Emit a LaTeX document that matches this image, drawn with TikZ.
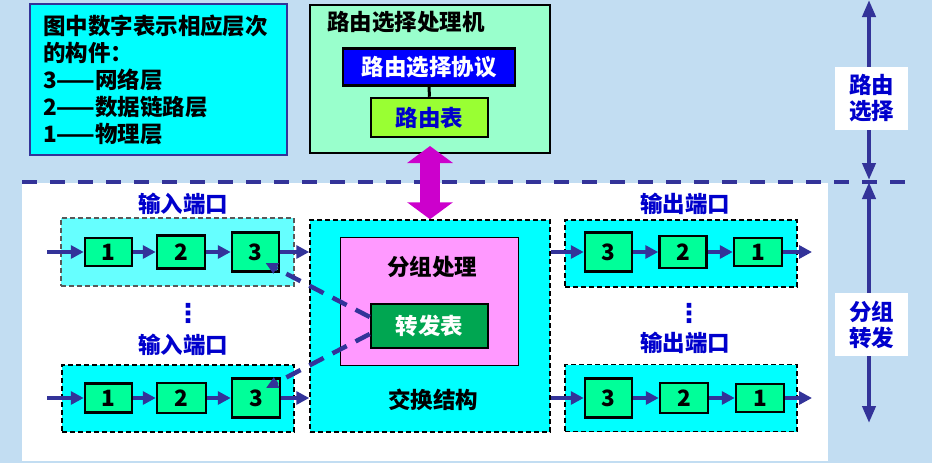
\documentclass[tikz,border=0pt]{standalone}
\usepackage{fontspec}
\setmainfont{Noto Sans CJK SC}
\newfontfamily\symfont{DejaVu Sans}
\usepackage{xcolor}
\usetikzlibrary{arrows.meta,positioning}
\definecolor{cbg}{HTML}{C2DDF2}
\definecolor{cnavy}{HTML}{333399}
\definecolor{ccyan}{HTML}{00FFFF}
\definecolor{cpale}{HTML}{66FFFF}
\definecolor{cspring}{HTML}{00FF99}
\definecolor{cmint}{HTML}{99FFCC}
\definecolor{cblue}{HTML}{0000FF}
\definecolor{clime}{HTML}{99FF33}
\definecolor{cpink}{HTML}{FF99FF}
\definecolor{cdgreen}{HTML}{00A651}
\definecolor{cmag}{HTML}{CC00CC}
\definecolor{ctblue}{HTML}{0000CC}
\newcommand{\bigtxt}{\bfseries\fontsize{22.5}{27}\selectfont}
\tikzset{
  flow/.style={cnavy,line width=4pt,-{Triangle[length=13pt,width=13pt]}},
  ctl/.style={cnavy,line width=4.5pt,dash pattern=on 16pt off 10pt,-{Triangle[length=12pt,width=11pt]}},
  layer/.style={draw=black,line width=2.5pt,fill=cspring,inner sep=0pt,minimum width=47pt,font=\bigtxt},
  port/.style={draw=black,line width=1.5pt,dash pattern=on 5pt off 3pt,fill=ccyan,minimum width=232pt,minimum height=67pt},
  tag/.style={text=ctblue,font=\bigtxt,inner sep=0pt},
  plain/.style={font=\bigtxt,inner sep=0pt}
}

\begin{document}
\begin{tikzpicture}[x=1pt,y=-1pt]
\useasboundingbox (0,0) rectangle (932,463);
\fill[cbg] (0,0) rectangle (932,463);
\fill[white] (22,183) rectangle (828,461);
\draw[cnavy,line width=4pt,dash pattern=on 15pt off 13pt] (22,182) -- (905,182);

% ===== legend =====
\node[draw=cnavy,line width=2pt,fill=ccyan,minimum width=257pt,minimum height=151pt,
      text width=231pt,align=left,inner xsep=13pt,font=\bigtxt] (legend) at (158.5,79.5)
  {图中数字表示相应层次\\的构件：\\3——网络层\\2——数据链路层\\1——物理层};

% ===== routing processor =====
\node[draw=black,line width=2pt,fill=cmint,minimum width=240pt,minimum height=148pt] (proc) at (430,79) {};
\node[plain,anchor=west] (proctitle) at (327,22) {路由选择处理机};
\node[draw=black,line width=2.5pt,fill=cblue,text=white,font=\bigtxt,minimum width=172pt,minimum height=37pt] (proto) at (429,67) {路由选择协议};
\node[draw=black,line width=2.5pt,fill=clime,text=ctblue,font=\bigtxt,minimum width=117pt,minimum height=39pt] (rtab) at (429.5,117.5) {路由表};
\draw[line width=3pt] (proto) -- (rtab);

% ===== switch fabric =====
\node[port,minimum width=240pt,minimum height=212pt] (fabric) at (430,326) {};
\node[plain] (fabrictxt) at (433,400) {交换结构};
\node[draw=black,line width=1pt,fill=cpink,minimum width=178pt,minimum height=128pt] (pkt) at (429,301) {};
\node[plain] (pkttxt) at (432,267) {分组处理};
\node[draw=black,line width=2.5pt,fill=cdgreen,text=white,font=\bigtxt,minimum width=117pt,minimum height=44pt] (ftab) at (429.5,326) {转发表};

\draw[cmag,line width=20pt,{Triangle[length=17pt,width=45pt]}-{Triangle[length=17pt,width=45pt]}]
  ([yshift=8pt]proc.south) -- (fabric.north);

% ===== input ports =====
\node[port,draw=black!65,fill=cpale,minimum width=233pt,minimum height=68pt] (inA) at (177.5,252) {};
\node[tag] (inAtag) at (183,204) {输入端口};
\node[layer,minimum height=28pt] (inA1) at (108.5,252) {1};
\node[layer,minimum width=48pt,minimum height=33pt] (inA2) at (181,252) {2};
\node[layer,minimum height=39pt] (inA3) at (255.5,252) {3};
\coordinate (inAsrc) at (47,252);
\draw[flow] (inAsrc) -- (inA1);
\draw[flow] (inA1) -- (inA2);
\draw[flow] (inA2) -- (inA3);
\draw[flow] (inA3.east) -- (inA3.east -| fabric.west);

\node[text=ctblue,font=\symfont\bfseries\fontsize{26}{26}\selectfont,inner sep=0pt] (inDots) at (188,313) {⋮};

\node[port,minimum width=232pt] (inB) at (178,398.5) {};
\node[tag] (inBtag) at (183,345) {输入端口};
\node[layer,minimum height=29pt] (inB1) at (108.5,398) {1};
\node[layer,minimum width=49pt,minimum height=30pt] (inB2) at (181.5,398) {2};
\node[layer,minimum width=48pt,minimum height=39pt] (inB3) at (256,398) {3};
\coordinate (inBsrc) at (47,398);
\draw[flow] (inBsrc) -- (inB1);
\draw[flow] (inB1) -- (inB2);
\draw[flow] (inB2) -- (inB3);
\draw[flow] (inB3.east) -- (inB3.east -| fabric.west);

% ===== output ports =====
\node[port] (outA) at (681,253.5) {};
\node[tag] (outAtag) at (685,204) {输出端口};
\node[layer,minimum height=39pt] (outA3) at (608.5,252) {3};
\node[layer,minimum height=32pt] (outA2) at (683,252) {2};
\node[layer,minimum width=48pt,minimum height=28pt] (outA1) at (758,252) {1};
\coordinate (outAdst) at (812,252);
\draw[flow] (outA3.west -| fabric.east) -- (outA3.west);
\draw[flow] (outA3) -- (outA2);
\draw[flow] (outA2) -- (outA1);
\draw[flow] (outA1) -- (outAdst);

\node[text=ctblue,font=\symfont\bfseries\fontsize{26}{26}\selectfont,inner sep=0pt] (outDots) at (689,313) {⋮};

\node[port] (outB) at (681,398) {};
\node[tag] (outBtag) at (685,343) {输出端口};
\node[layer,minimum height=39pt] (outB3) at (608.5,398) {3};
\node[layer,minimum width=48pt,minimum height=30pt] (outB2) at (684,398) {2};
\node[layer,minimum width=48pt,minimum height=28pt] (outB1) at (760,398) {1};
\coordinate (outBdst) at (812,398);
\draw[flow] (outB3.west -| fabric.east) -- (outB3.west);
\draw[flow] (outB3) -- (outB2);
\draw[flow] (outB2) -- (outB1);
\draw[flow] (outB1) -- (outBdst);

% ===== forwarding table lookups =====
\draw[ctl] ([yshift=9pt]ftab.west) -- ([xshift=10pt,yshift=-11pt]inA3.center);
\draw[ctl] ([yshift=-8pt]ftab.west) -- ([xshift=10pt,yshift=10pt]inB3.center);

% ===== right side scale =====
\coordinate (routeTop) at (869,0);
\coordinate (routeBot) at (869,180);
\coordinate (fwdTop) at (869,182);
\coordinate (fwdBot) at (869,423);
\draw[cnavy,line width=4pt,{Triangle[length=17pt,width=13pt]}-{Triangle[length=17pt,width=13pt]}] (routeTop) -- (routeBot);
\draw[cnavy,line width=4pt,{Triangle[length=17pt,width=13pt]}-{Triangle[length=17pt,width=13pt]}] (fwdTop) -- (fwdBot);
\node[fill=white,text=ctblue,font=\bfseries\fontsize{22.5}{26}\selectfont,align=center,minimum width=73pt,minimum height=63pt,inner sep=0pt] (routeTag) at (871.5,98.5) {路由\\选择};
\node[fill=white,text=ctblue,font=\bfseries\fontsize{22.5}{26}\selectfont,align=center,minimum width=73pt,minimum height=63pt,inner sep=0pt] (fwdTag) at (871.5,324.5) {分组\\转发};
\end{tikzpicture}
\end{document}
